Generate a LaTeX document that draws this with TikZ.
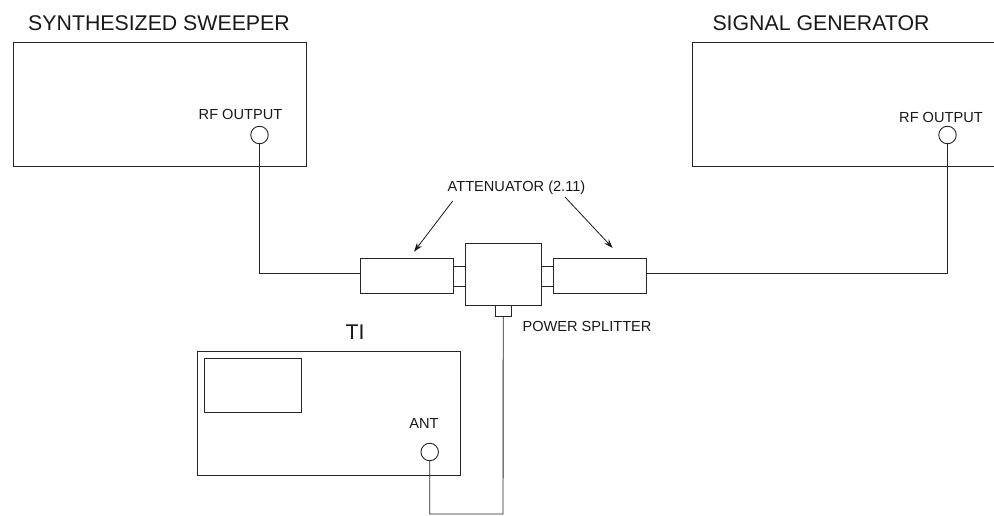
\documentclass[tikz,border=0pt]{standalone}
\usepackage{fontspec}
\setmainfont{Liberation Sans}
\usetikzlibrary{positioning, arrows.meta}
\begin{document}
\begin{tikzpicture}[
    x=1pt, y=-1pt,
    line width=0.9pt,
    box/.style={rectangle, draw=black!85, inner sep=0pt, outer sep=0pt},
    port/.style={circle, draw=black!85, inner sep=0pt, outer sep=0pt, minimum size=17.5pt},
    title/.style={font=\fontsize{21.3}{24}\selectfont, text=black!90, inner sep=0pt},
    tag/.style={font=\fontsize{14.6}{17}\selectfont, text=black!90, inner sep=0pt},
    cable/.style={draw=black!85},
    pointer/.style={-{Stealth[length=9pt,width=6pt]}, draw=black!90, line width=0.8pt}
]
    \useasboundingbox (0,0) rectangle (994,516);

    % instruments
    \node[box, minimum width=293pt, minimum height=124pt] (sweeper) at (159.5,104) {};
    \node[box, minimum width=320pt, minimum height=124pt] (generator) at (852,104) {};
    \node[box, minimum width=263pt, minimum height=123.5pt] (receiver) at (329,413.25) {};
    \node[box, minimum width=97pt, minimum height=54pt] (display) at (252.5,385) {};

    \node[title] (sweepertitle) at (159,23) {SYNTHESIZED SWEEPER};
    \node[title] (generatortitle) at (821,23) {SIGNAL GENERATOR};
    \node[title] (receivertitle) at (355,332) {TI};

    % ports
    \node[port] (sweeperport) at (259.5,135) {};
    \node[port] (generatorport) at (947.5,135) {};
    \node[port] (antport) at (429.7,452) {};
    \node[tag] (sweeperlabel) at (240.5,114.5) {RF OUTPUT};
    \node[tag] (generatorlabel) at (941,117) {RF OUTPUT};
    \node[tag] (antlabel) at (424,423.5) {ANT};

    % splitter and attenuators
    \node[box, minimum width=76.5pt, minimum height=62pt] (splitter) at (503.25,274) {};
    \node[box, minimum width=93pt, minimum height=35pt] (attleft) at (406.5,276) {};
    \node[box, minimum width=93pt, minimum height=35pt] (attright) at (599.5,276) {};
    \node[box, minimum width=12pt, minimum height=20pt] (stubleft) at (459,276) {};
    \node[box, minimum width=12pt, minimum height=20pt] (stubright) at (547.25,276) {};
    \node[box, minimum width=15.5pt, minimum height=11.5pt] (tap) at (503.25,310.75) {};

    \node[tag] (attlabel) at (516.5,187.5) {ATTENUATOR (2.11)};
    \node[tag] (splitterlabel) at (587,326) {POWER SPLITTER};

    % cables
    \coordinate (cablecorner) at (503,514);
    \draw[cable] (sweeperport.south) |- ([yshift=2.6pt]attleft.west);
    \draw[cable] ([yshift=2.6pt]attright.east) -| (generatorport.south);
    \draw[cable] (antport.south) |- (cablecorner) -- (tap.south);

    \coordinate (pointerleft) at (452.7,201);
    \coordinate (pointerright) at (565,197);
    \draw[pointer] (pointerleft) -- (414,251.7);
    \draw[pointer] (pointerright) -- (612.7,248);
\end{tikzpicture}
\end{document}
